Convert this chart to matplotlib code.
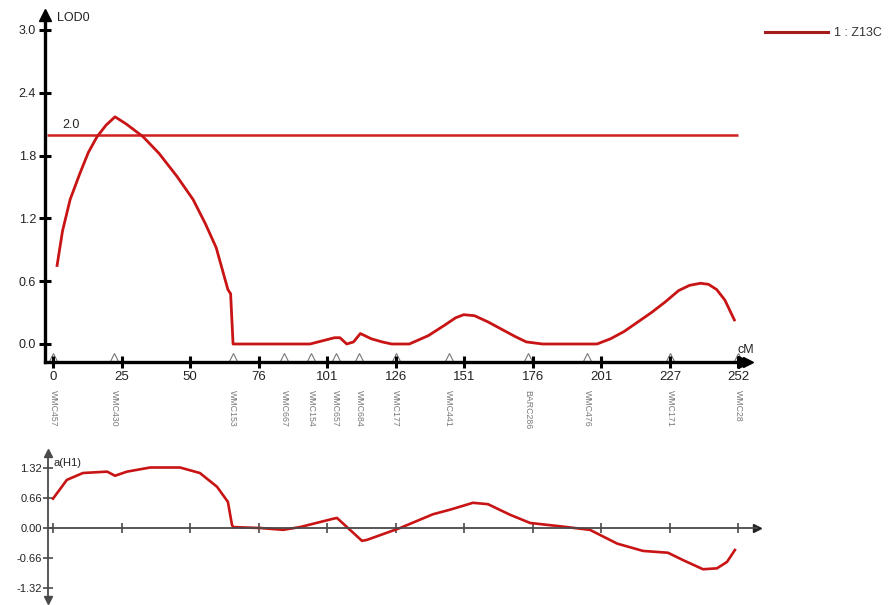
import matplotlib
matplotlib.use("Agg")
import matplotlib.pyplot as plt
from matplotlib.lines import Line2D

plt.rcParams['font.family'] = ['Liberation Sans', 'DejaVu Sans']

# ---------------- data ----------------
lod_cm = [1.5, 3.5, 6.3, 9.9, 13, 16.2, 19.5, 22.8, 27, 33.1, 39, 45.6, 51.5, 56, 60,
          64.3, 65.3, 66.2, 80, 94.5, 99, 103.5, 105.5, 108, 110.5, 113, 117, 121, 124.5,
          131, 138, 144, 148, 151, 155, 160, 165, 170, 174, 180, 200, 205, 210, 215, 220,
          225, 230, 234, 238, 241, 244, 247, 250.5]
lod_val = [0.75, 1.08, 1.38, 1.63, 1.83, 1.98, 2.09, 2.17, 2.10, 1.98, 1.82, 1.60, 1.38,
           1.15, 0.92, 0.52, 0.48, 0.0, 0.0, 0.0, 0.03, 0.06, 0.06, 0.0, 0.02, 0.10, 0.05,
           0.02, 0.0, 0.0, 0.08, 0.18, 0.25, 0.28, 0.27, 0.21, 0.14, 0.07, 0.02, 0.0, 0.0,
           0.05, 0.12, 0.21, 0.30, 0.40, 0.51, 0.56, 0.58, 0.57, 0.52, 0.42, 0.23]

a_cm = [0, 5.1, 11, 19.9, 22.8, 27.2, 35.7, 46.7, 54, 60.3, 64.3, 65.8, 66.2, 76.1, 84.6,
        90.8, 102.9, 104.4, 113.6, 115.4, 127.6, 139.7, 146, 154.4, 159.9, 168, 175.4,
        187.5, 197.4, 207.4, 216.9, 226.1, 231.6, 239, 244.1, 247.8, 250.7]
a_val = [0.64, 1.05, 1.20, 1.23, 1.14, 1.23, 1.32, 1.32, 1.20, 0.90, 0.57, 0.07, 0.02, 0.0,
         -0.04, 0.02, 0.20, 0.22, -0.28, -0.26, 0.0, 0.30, 0.40, 0.55, 0.52, 0.29, 0.11,
         0.03, -0.04, -0.34, -0.50, -0.54, -0.70, -0.90, -0.88, -0.74, -0.48]

marker_names = ['WMC457', 'WMC430', 'WMC153', 'WMC667', 'WMC154', 'WMC657', 'WMC684',
                'WMC177', 'WMC441', 'BARC286', 'WMC476', 'WMC171', 'WMC28']
marker_pos = [0, 22.5, 66, 85, 95, 104, 112.5, 126, 145.5, 174.5, 196.5, 227, 252]

x_ticks = [0, 25.2, 50.4, 75.6, 100.8, 126, 151.2, 176.4, 201.6, 226.8, 252]
x_tick_labels = ['0', '25', '50', '76', '101', '126', '151', '176', '201', '227', '252']
top_yticks = [0.0, 0.6, 1.2, 1.8, 2.4, 3.0]
top_ylabels = ['0.0', '0.6', '1.2', '1.8', '2.4', '3.0']
bot_yticks = [-1.32, -0.66, 0.0, 0.66, 1.32]
bot_ylabels = ['-1.32', '-0.66', '0.00', '0.66', '1.32']
threshold = 2.0
series_name = '1 : Z13C'

W, H = 888, 605
fig = plt.figure(figsize=(W / 100, H / 100), dpi=100)

PX_CM = 2.72
X0 = 53

# ---------------- top panel ----------------
L, R, T, B = 45, 748, 15, 362
ax = fig.add_axes([L / W, 1 - B / H, (R - L) / W, (B - T) / H])
ax.set_xlim((L - X0) / PX_CM, (R - X0) / PX_CM)
Y0 = 344
PX_LOD = 104.7
ax.set_ylim((Y0 - B) / PX_LOD, (Y0 - T) / PX_LOD)
for s in ['top', 'right']:
    ax.spines[s].set_visible(False)
for s in ['left', 'bottom']:
    ax.spines[s].set_linewidth(2.4)
    ax.spines[s].set_color('black')
ax.set_xticks(x_ticks)
ax.set_xticklabels(x_tick_labels, fontsize=9.5, color='#222')
ax.set_yticks(top_yticks)
ax.set_yticklabels(top_ylabels, fontsize=9, color='#222')
ax.tick_params(axis='both', direction='inout', length=9, width=2.2, color='black')
ax.tick_params(axis='x', pad=2)
ax.tick_params(axis='y', pad=2)

ax.hlines(threshold, ax.get_xlim()[0] + 0.8, 252, color='#d21f1f', lw=1.8)
ax.text(3.3, threshold + 0.03, '2.0', fontsize=9, ha='left', va='bottom', color='#222')
ax.plot(lod_cm, lod_val, color='#c81414', lw=2.0, solid_joinstyle='round')

# marker triangles and names
ax.plot(marker_pos, [ax.get_ylim()[0] + 0.05] * len(marker_pos), linestyle='none',
        marker='^', markersize=5.5, markerfacecolor='white', markeredgecolor='#777',
        markeredgewidth=0.8, clip_on=False, zorder=1)
for p, n in zip(marker_pos, marker_names):
    ax.text(p, -0.08, n, transform=ax.get_xaxis_transform(), rotation=-90,
            ha='center', va='top', fontsize=6.3, color='#7a7a7a')

# axis arrows and labels
xl, yl = ax.get_xlim(), ax.get_ylim()
ax.plot([xl[0]], [yl[1]], marker='^', markersize=9, color='black', clip_on=False)
ax.plot([xl[1] - 1.5], [yl[0]], marker='>', markersize=9, color='black', clip_on=False)
ax.plot([xl[1]], [yl[0]], marker='>', markersize=7, color='black', clip_on=False)
ax.text(1.5, 3.11, 'LOD0', fontsize=9, ha='left', va='center', color='#222')
ax.text(251.5, -0.06, 'cM', fontsize=9, ha='left', va='center', color='#222')

# legend
handle = Line2D([], [], color='#a41c1c', lw=2.2)
fig.legend([handle], [series_name], loc='center left',
           bbox_to_anchor=(765 / W, 1 - 33 / H), frameon=False, fontsize=9,
           handlelength=5.0, handletextpad=0.5, borderaxespad=0, borderpad=0,
           labelcolor='#333')

# ---------------- bottom panel ----------------
L2, R2, T2, B2 = 48, 757, 453, 600
ax2 = fig.add_axes([L2 / W, 1 - B2 / H, (R2 - L2) / W, (B2 - T2) / H])
ax2.set_xlim((L2 - X0) / PX_CM, (R2 - X0) / PX_CM)
Y0b = 528
PX_A = 45.83
ax2.set_ylim(-(B2 - Y0b) / PX_A, (Y0b - T2) / PX_A)
for s in ['top', 'right']:
    ax2.spines[s].set_visible(False)
ax2.spines['bottom'].set_position(('data', 0))
for s in ['left', 'bottom']:
    ax2.spines[s].set_linewidth(1.3)
    ax2.spines[s].set_color('#4a4a4a')
ax2.set_xticks(x_ticks)
ax2.set_xticklabels([])
ax2.set_yticks(bot_yticks)
ax2.set_yticklabels(bot_ylabels, fontsize=8, color='#222')
ax2.tick_params(axis='both', direction='inout', length=7, width=1.2, color='#4a4a4a', pad=1)
ax2.plot(a_cm, a_val, color='#c81414', lw=1.9, solid_joinstyle='round')
xl2, yl2 = ax2.get_xlim(), ax2.get_ylim()
ax2.plot([xl2[0]], [yl2[1]], marker='^', markersize=6, color='#4a4a4a', clip_on=False)
ax2.plot([xl2[0]], [yl2[0]], marker='v', markersize=6, color='#4a4a4a', clip_on=False)
ax2.plot([xl2[1]], [0], marker='>', markersize=6, color='#222', clip_on=False)
ax2.text(0, 1.42, 'a(H1)', fontsize=8, ha='left', va='center', color='#222')

fig.savefig('out.png', dpi=100)
